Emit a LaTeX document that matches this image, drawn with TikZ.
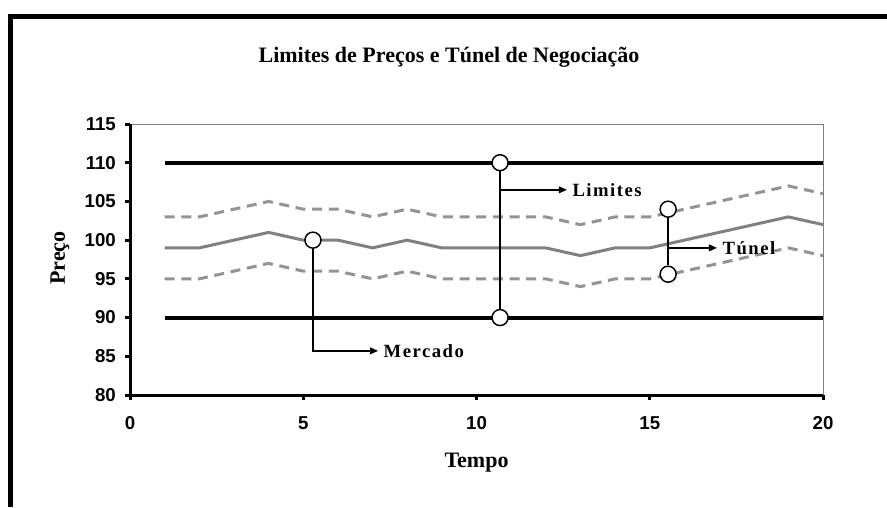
\documentclass[tikz,border=0pt]{standalone}
\usepackage{fontspec}
\setmainfont{Liberation Serif}
\setsansfont{Liberation Sans}
\usetikzlibrary{arrows.meta, positioning}

\tikzset{
	eixo/.style={line width=2.25pt, black},
	moldura/.style={line width=0.75pt, gray},
	limite/.style={line width=3pt, black},
	mercado/.style={line width=2.25pt, gray},
	tunel/.style={line width=2.25pt, gray!85, dash pattern=on 7.5pt off 5pt},
	marca/.style={circle, draw, fill=white, line width=1.1pt, minimum size=12pt, inner sep=0pt},
	guia/.style={line width=1.1pt},
	seta/.style={line width=1.1pt, -{Triangle[length=6pt,width=5pt]}},
	rotulo/.style={font=\bfseries\fontsize{14}{16}\selectfont\addfontfeature{LetterSpace=8}, inner sep=4pt},
	numero/.style={font=\sffamily\bfseries\fontsize{14}{16}\selectfont, inner sep=0pt},
	titulo/.style={font=\bfseries\fontsize{16.5}{19}\selectfont},
}

\begin{document}
\begin{tikzpicture}[x=0.75pt,y=0.75pt]
	\useasboundingbox (0,0) rectangle (887,507);
	\draw[line width=3.75pt] (10,0) -- (10,490.5) -- (887,490.5);
	\node[titulo] (tit) at (449,450) {Limites de Preços e Túnel de Negociação};

	\begin{scope}[xshift=97.5pt, yshift=84pt, x=25.9875pt, y=5.807pt, shift={(0,-80)}]
		\draw[moldura] (0,115) -- (20,115) -- (20,80);
		\draw[eixo] (0,115) -- (0,80) -- (20,80);
		\foreach \v in {80,85,...,115} {
			\draw[eixo] (0,\v) -- ++(-4pt,0);
			\node[numero, anchor=east] (y\v) at (-0.4,\v) {\v};
		}
		\foreach \t in {0,5,...,20} {
			\draw[eixo] (\t,80) -- ++(0,-4pt);
			\node[numero] (x\t) at (\t,76.4) {\t};
		}
		\node[titulo, rotate=90] (preco) at (-2.02,97.7) {Preço};
		\node[titulo] (tempo) at (10,71.2) {Tempo};

		% limites
		\draw[limite] (1,110) -- (20,110);
		\draw[limite] (1,90) -- (20,90);
		% tunel
		\draw[tunel] plot coordinates {(1,103) (2,103) (3,104) (4,105) (5,104) (6,104) (7,103) (8,104) (9,103) (10,103) (11,103) (12,103) (13,102) (14,103) (15,103) (16,104) (17,105) (18,106) (19,107) (20,106)};
		\draw[tunel] plot coordinates {(1,95) (2,95) (3,96) (4,97) (5,96) (6,96) (7,95) (8,96) (9,95) (10,95) (11,95) (12,95) (13,94) (14,95) (15,95) (16,96) (17,97) (18,98) (19,99) (20,98)};
		% mercado
		\draw[mercado] plot coordinates {(1,99) (2,99) (3,100) (4,101) (5,100) (6,100) (7,99) (8,100) (9,99) (10,99) (11,99) (12,99) (13,98) (14,99) (15,99) (16,100) (17,101) (18,102) (19,103) (20,102)};

		% marcas
		\node[marca] (mkM) at (5.28,100) {};
		\node[rotulo, anchor=west] (txM) at (7.16,85.7) {Mercado};
		\draw[seta] (mkM) |- (txM.west);

		\node[marca] (mkL1) at (10.68,110) {};
		\node[marca] (mkL2) at (10.68,90) {};
		\node[rotulo, anchor=west] (txL) at (12.61,106.5) {Limites};
		\draw[guia] (mkL1) -- (mkL2);
		\draw[seta] (mkL1 |- txL.west) -- (txL.west);

		\node[marca] (mkT1) at (15.53,104) {};
		\node[marca] (mkT2) at (15.53,95.6) {};
		\node[rotulo, anchor=west] (txT) at (16.94,99) {Túnel};
		\draw[guia] (mkT1) -- (mkT2);
		\draw[seta] (mkT1 |- txT.west) -- (txT.west);
	\end{scope}
\end{tikzpicture}
\end{document}
